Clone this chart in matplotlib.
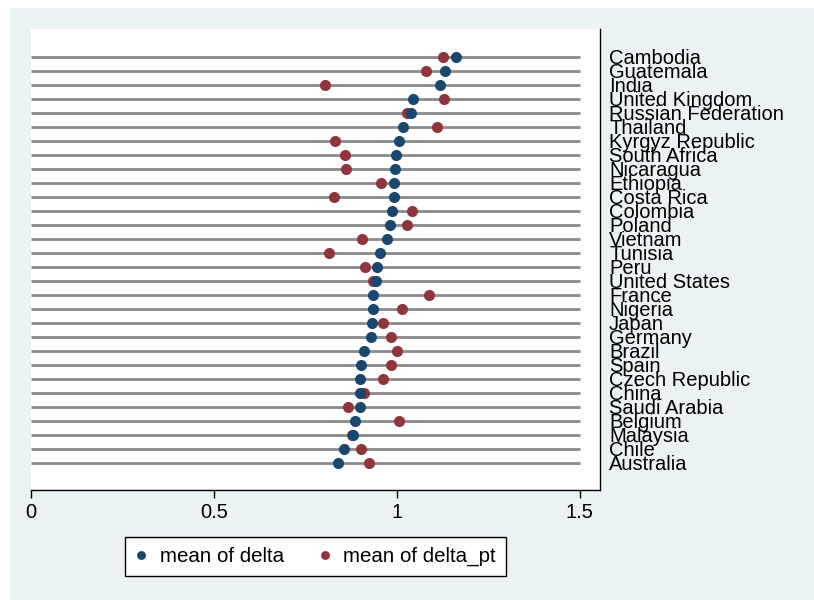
import matplotlib
matplotlib.use('Agg')
import matplotlib.pyplot as plt
from matplotlib.patches import Rectangle

countries = ['Cambodia', 'Guatemala', 'India', 'United Kingdom', 'Russian Federation',
             'Thailand', 'Kyrgyz Republic', 'South Africa', 'Nicaragua', 'Ethiopia',
             'Costa Rica', 'Colombia', 'Poland', 'Vietnam', 'Tunisia',
             'Peru', 'United States', 'France', 'Nigeria', 'Japan',
             'Germany', 'Brazil', 'Spain', 'Czech Republic', 'China',
             'Saudi Arabia', 'Belgium', 'Malaysia', 'Chile', 'Australia']
delta = [1.161, 1.133, 1.119, 1.045, 1.039,
         1.018, 1.007, 0.999, 0.996, 0.993,
         0.991, 0.988, 0.981, 0.974, 0.953,
         0.945, 0.944, 0.934, 0.934, 0.931,
         0.929, 0.911, 0.902, 0.900, 0.899,
         0.899, 0.887, 0.881, 0.857, 0.838]
delta_pt = [1.127, 1.081, 0.804, 1.130, 1.027,
            1.111, 0.832, 0.859, 0.862, 0.958,
            0.827, 1.041, 1.029, 0.905, 0.814,
            0.913, 0.934, 1.087, 1.014, 0.961,
            0.984, 1.001, 0.985, 0.961, 0.910,
            0.866, 1.006, 0.877, 0.902, 0.925]
xticks = [0, 0.5, 1, 1.5]
xtick_labels = ['0', '0.5', '1', '1.5']

navy = '#1a476f'
maroon = '#90353b'
bg = '#eaf2f3'
fs = 14.5

fig = plt.figure(figsize=(8.14, 6.0), dpi=100)
fig.patch.set_facecolor('white')
fig.patches.append(Rectangle((10 / 814, 0), 1, 1 - 8 / 600, transform=fig.transFigure,
                             facecolor=bg, edgecolor='none', zorder=-5))

ax = fig.add_axes([31 / 814, 110 / 600, 569 / 814, 461 / 600])
ax.set_facecolor('white')

rows = list(range(len(countries)))
ax.hlines(rows, 0, 1.5, color='#8a8a8a', linewidth=2.0, zorder=1)
ax.plot(delta_pt, rows, 'o', color=maroon, markersize=8, markeredgewidth=0,
        label='mean of delta_pt', zorder=3)
ax.plot(delta, rows, 'o', color=navy, markersize=8, markeredgewidth=0,
        label='mean of delta', zorder=4)

ax.set_xlim(0, 569 / 365.8)
ax.set_ylim(len(countries) - 1 + 1.93, -2)

for s in ['top', 'left']:
    ax.spines[s].set_visible(False)
ax.spines['bottom'].set_linewidth(1.0)
ax.spines['right'].set_linewidth(1.0)

ax.set_xticks(xticks)
ax.set_xticklabels(xtick_labels, fontsize=fs, fontfamily='Liberation Sans')
ax.tick_params(axis='x', direction='out', length=6, width=1, pad=3)
ax.set_yticks([])

for r, name in zip(rows, countries):
    ax.text(1 + 9 / 569, r + 0.1, name, transform=ax.get_yaxis_transform(), ha='left',
            va='center', fontsize=fs, fontfamily='Liberation Sans')

handles, labels = ax.get_legend_handles_labels()
leg = fig.legend(handles[::-1], labels[::-1], ncol=2, loc='center',
                 bbox_to_anchor=(315.5 / 814, 1 - 556.5 / 600), frameon=True,
                 fancybox=False, edgecolor='black', facecolor='white', framealpha=1,
                 prop={'family': 'Liberation Sans', 'size': 14.8}, markerscale=0.8,
                 handlelength=0.6, handletextpad=0.6, columnspacing=1.7,
                 borderpad=0.5, borderaxespad=0)
leg.get_frame().set_linewidth(1.0)

fig.savefig('out.png', dpi=100, facecolor=fig.get_facecolor())
